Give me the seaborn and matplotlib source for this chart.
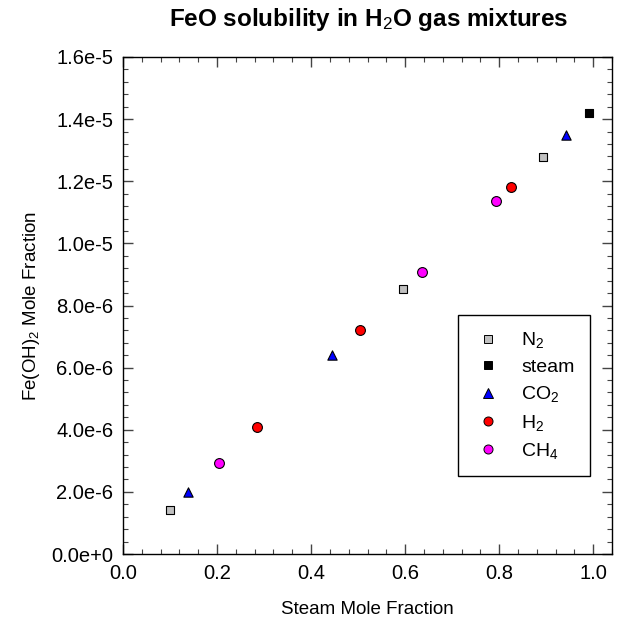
import matplotlib
matplotlib.use("Agg")
import matplotlib.pyplot as plt
from matplotlib.ticker import MultipleLocator, FixedLocator, FixedFormatter
from matplotlib.lines import Line2D
import seaborn as sns
import pandas as pd

# ---- data ----
n2_x = [0.100, 0.595, 0.893]
n2_y = [1.42e-6, 8.53e-6, 1.278e-5]
steam_x = [0.992]
steam_y = [1.419e-5]
co2_x = [0.139, 0.444, 0.943]
co2_y = [2.00e-6, 6.42e-6, 1.350e-5]
h2_x = [0.285, 0.504, 0.825]
h2_y = [4.08e-6, 7.21e-6, 1.181e-5]
ch4_x = [0.204, 0.635, 0.794]
ch4_y = [2.92e-6, 9.08e-6, 1.137e-5]

series_names = ["N2", "steam", "CO2", "H2", "CH4"]
series_labels = ["N$_2$", "steam", "CO$_2$", "H$_2$", "CH$_4$"]
y_ticks = [0, 2e-6, 4e-6, 6e-6, 8e-6, 1e-5, 1.2e-5, 1.4e-5, 1.6e-5]
y_tick_labels = ["0.0e+0", "2.0e-6", "4.0e-6", "6.0e-6", "8.0e-6",
                 "1.0e-5", "1.2e-5", "1.4e-5", "1.6e-5"]
x_ticks = [0.0, 0.2, 0.4, 0.6, 0.8, 1.0]
x_tick_labels = ["0.0", "0.2", "0.4", "0.6", "0.8", "1.0"]

colors = {"N2": "#c0c0c0", "steam": "#000000", "CO2": "#0000ff",
          "H2": "#ff0000", "CH4": "#ff00ff"}
markers = {"N2": "s", "steam": "s", "CO2": "^", "H2": "o", "CH4": "o"}
sizes = {"N2": 34, "steam": 34, "CO2": 45, "H2": 50, "CH4": 50}

rows = []
for name, xs, ys in zip(series_names,
                        [n2_x, steam_x, co2_x, h2_x, ch4_x],
                        [n2_y, steam_y, co2_y, h2_y, ch4_y]):
    for xv, yv in zip(xs, ys):
        rows.append({"x": xv, "y": yv, "gas": name})
df = pd.DataFrame(rows)

sns.set_theme(style="white")
plt.rcParams["font.family"] = ["Liberation Sans", "DejaVu Sans"]
plt.rcParams["mathtext.fontset"] = "custom"
plt.rcParams["mathtext.rm"] = "Liberation Sans"
plt.rcParams["mathtext.it"] = "Liberation Sans"
plt.rcParams["mathtext.bf"] = "Liberation Sans:bold"
plt.rcParams["text.color"] = "black"
plt.rcParams["axes.labelcolor"] = "black"
plt.rcParams["xtick.color"] = "black"
plt.rcParams["ytick.color"] = "black"

fig = plt.figure(figsize=(6.26, 6.20), dpi=100)
ax = fig.add_axes([123 / 626, 1 - 554 / 620, (612 - 123) / 626, (554 - 57) / 620])

for name in series_names:
    sub = df[df["gas"] == name]
    sns.scatterplot(data=sub, x="x", y="y", ax=ax, marker=markers[name],
                    color=colors[name], s=sizes[name], edgecolor="black",
                    linewidth=0.8, legend=False, zorder=3)

ax.set_xlim(0, 1.04)
ax.set_ylim(0, 1.6e-5)
ax.xaxis.set_major_locator(FixedLocator(x_ticks))
ax.xaxis.set_major_formatter(FixedFormatter(x_tick_labels))
ax.xaxis.set_minor_locator(MultipleLocator(0.04))
ax.yaxis.set_major_locator(FixedLocator(y_ticks))
ax.yaxis.set_major_formatter(FixedFormatter(y_tick_labels))
ax.yaxis.set_minor_locator(MultipleLocator(4e-7))

for sp in ax.spines.values():
    sp.set_visible(True)
    sp.set_color("black")
    sp.set_linewidth(1.0)

ax.tick_params(which="both", direction="in", top=True, right=True,
               bottom=True, left=True, color="#444444", labelcolor="black")
ax.tick_params(which="major", length=7, width=1.0, labelsize=14.5, pad=7)
ax.tick_params(which="minor", length=3.5, width=0.8)

ax.set_xlabel("Steam Mole Fraction", fontsize=13.5, labelpad=13)
ax.set_ylabel("Fe(OH)$_2$ Mole Fraction", fontsize=13.5, labelpad=7)
fig.suptitle("FeO solubility in H$_2$O gas mixtures", fontsize=17.5,
             fontweight="bold", x=369 / 626, y=1 - 6 / 620, va="top")

handles = [Line2D([0], [0], marker=markers[n], linestyle="none",
                  markerfacecolor=colors[n], markeredgecolor="black",
                  markeredgewidth=0.7, markersize=5.5 if n in ("N2", "steam") else 6.5)
           for n in series_names]
leg = ax.legend(handles, series_labels, loc="upper left",
                bbox_to_anchor=(0.685, 0.481), fontsize=14, frameon=True,
                fancybox=False, edgecolor="black", framealpha=1,
                handlelength=1.5, handletextpad=0.95, labelspacing=0.42,
                borderpad=0.8, borderaxespad=0)
leg.get_frame().set_linewidth(1.0)

fig.savefig("out.png", dpi=100)
